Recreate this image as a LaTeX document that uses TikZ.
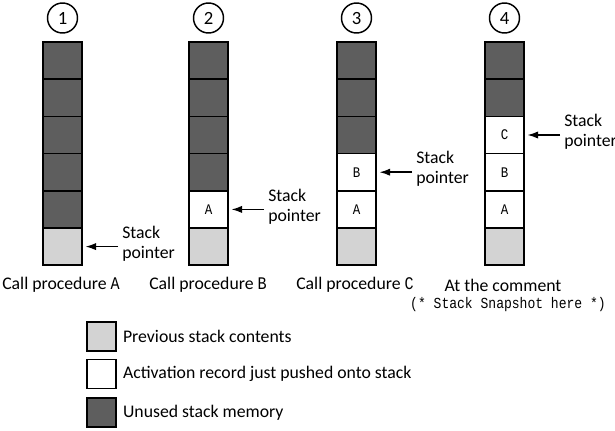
\documentclass[tikz,border=0pt]{standalone}
\usepackage{fontspec}
\setmainfont{Carlito}
\setmonofont{Liberation Mono}
\newfontfamily\condmono[FakeStretch=0.85]{Liberation Mono}
\usetikzlibrary{positioning,arrows.meta}
\definecolor{unusedgray}{HTML}{5E5E5E}
\definecolor{prevgray}{HTML}{D3D3D3}
\tikzset{
  cell/.style={draw,line width=1.2pt,minimum width=29.25pt,minimum height=27.9pt,inner sep=0pt,font=\condmono\fontsize{11}{13}\selectfont},
  unused/.style={cell,fill=unusedgray},
  prev/.style={cell,fill=prevgray},
  pushed/.style={cell,fill=white},
  stepnum/.style={draw,circle,line width=1.1pt,minimum size=22.5pt,inner sep=0pt,font=\fontsize{14}{16}\selectfont},
  sptext/.style={align=left,anchor=west,inner sep=0pt,font=\fontsize{13.3}{15}\selectfont},
  captext/.style={align=center,inner sep=0pt,font=\fontsize{13.3}{15}\selectfont},
  keybox/.style={minimum width=21.75pt,minimum height=21.75pt},
  keytext/.style={inner sep=0pt,font=\fontsize{13.3}{15}\selectfont},
  sparrow/.style={-{Latex[length=8pt,width=5.5pt]},line width=1.1pt,shorten >=2pt,shorten <=3pt}
}
\begin{document}
\begin{tikzpicture}[x=0.75pt,y=-0.75pt]
\useasboundingbox (0,0) rectangle (615,430);
\def\stackA{unused/{},unused/{},unused/{},unused/{},unused/{},prev/{}}
\def\stackB{unused/{},unused/{},unused/{},unused/{},pushed/A,prev/{}}
\def\stackC{unused/{},unused/{},unused/{},pushed/B,pushed/A,prev/{}}
\def\stackD{unused/{},unused/{},pushed/C,pushed/B,pushed/A,prev/{}}
\foreach \k/\xc/\cells in {1/62.5/\stackA,2/208.5/\stackB,3/356.5/\stackC,4/504.5/\stackD} {
  \node[stepnum] (num\k) at (\xc,18) {\k};
  \edef\celllist{\cells}
  \foreach \t/\l [count=\i] in \celllist {\node[\t] (s\k c\i) at ({\xc},{42+37.2*(\i-0.5)}) {\l};}
  \pgfmathtruncatemacro{\j}{7-\k}
  \node[sptext] (sp\k) at ({\xc+59.5},{42+37.2*(\j-0.5)-3}) {Stack\\pointer};
  \draw[sparrow] (sp\k.west |- s\k c\j.east) -- (s\k c\j.east);
}
\foreach \k/\xc/\p in {1/61/A,2/208/B,3/355/C} {
  \node[captext] (cap\k) at (\xc,285) {Call procedure {\condmono\p}};
}
\node[captext] (cap4) at (503,285) {At the comment};
\node[captext,font=\condmono\fontsize{11.5}{13}\selectfont] (cap4b) at (508,305) {(* Stack Snapshot here *)};
\node[prev,keybox] (key1) at (101.5,336.5) {};
\node[pushed,keybox] (key2) at (101.5,374) {};
\node[unused,keybox] (key3) at (101.5,412.5) {};
\node[keytext,right=4.5pt of key1] (keytext1) {Previous stack contents};
\node[keytext,right=4.5pt of key2] (keytext2) {Activation record just pushed onto stack};
\node[keytext,right=4.5pt of key3] (keytext3) {Unused stack memory};
\end{tikzpicture}
\end{document}
